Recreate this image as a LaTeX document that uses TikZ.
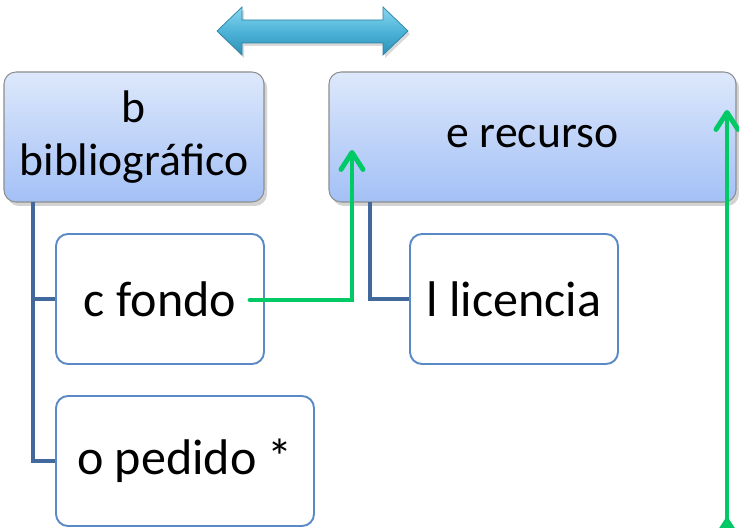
\documentclass[tikz,border=0pt]{standalone}
\usepackage{fontspec}
\setmainfont{Carlito}
\usepackage{tikz}
\usetikzlibrary{arrows.meta, shadows}

\definecolor{parenttop}{HTML}{DDE8FB}
\definecolor{parentbottom}{HTML}{A3C0F6}
\definecolor{parentline}{HTML}{8E8E8E}
\definecolor{childline}{HTML}{5A8AC6}
\definecolor{treeblue}{HTML}{41699B}
\definecolor{linkgreen}{HTML}{00C965}
\definecolor{dbtop}{HTML}{8AD6EE}
\definecolor{dbmid}{HTML}{4DB4D8}
\definecolor{dbbottom}{HTML}{2F90B6}
\definecolor{dbline}{HTML}{2A82A4}

\begin{document}
\begin{tikzpicture}[x=0.2mm, y=-0.2mm,
  parent/.style={draw=parentline, line width=0.6pt, rounded corners=2.4mm,
    top color=parenttop, bottom color=parentbottom,
    drop shadow={shadow xshift=0.6mm, shadow yshift=-0.8mm, opacity=0.35},
    minimum height=26mm, inner sep=0pt, align=center,
    font=\fontsize{26}{30}\selectfont},
  child/.style={draw=childline, line width=1.1pt, fill=white, rounded corners=2.4mm,
    minimum height=26mm, inner sep=0pt,
    font=\fontsize{28.5}{34}\selectfont},
  tree/.style={draw=treeblue, line width=2.8pt},
  link/.style={draw=linkgreen, line width=2.8pt, line cap=round,
    -{Straight Barb[length=3.4mm, width=4.4mm, round]}}]
\useasboundingbox (0,0) rectangle (739,528);

% double arrow on top
\shade[top color=dbtop, bottom color=dbbottom, middle color=dbmid,
  draw=dbline, thin, drop shadow={shadow xshift=0.4mm, shadow yshift=-0.6mm, opacity=0.3}]
  (217,31) -- (242,7) -- (242,20) -- (383,20) -- (383,7) -- (408,31)
  -- (383,55) -- (383,43) -- (242,43) -- (242,55) -- cycle;

% boxes
\node[parent, minimum width=52mm] (b) at (134,137) {b\\bibliográfico};
\node[parent, minimum width=81.4mm] (e) at (532.5,137) {e recurso};
\node[child, minimum width=41.6mm] (c) at (160,299) {c fondo};
\node[child, minimum width=51.6mm] (o) at (185,461) {o pedido *};
\node[child, minimum width=41.6mm] (l) at (514,299) {l licencia};

% tree lines
\coordinate (bt) at (33,202);
\coordinate (et) at (370,202);
\draw[tree] (bt) |- (c.west);
\draw[tree] (bt) |- (o.west);
\draw[tree] (et) |- (l.west);

% green arrows
\coordinate (cf) at (250,300);
\coordinate (ea) at (352,150);
\draw[link] (cf) -| (ea);
\coordinate (rs) at (727,560);
\coordinate (rc) at (727,518);
\coordinate (ra) at (727,110);
\draw[link] (rs) -- (rc);
\draw[link] (rc) -- (ra);
\end{tikzpicture}
\end{document}
